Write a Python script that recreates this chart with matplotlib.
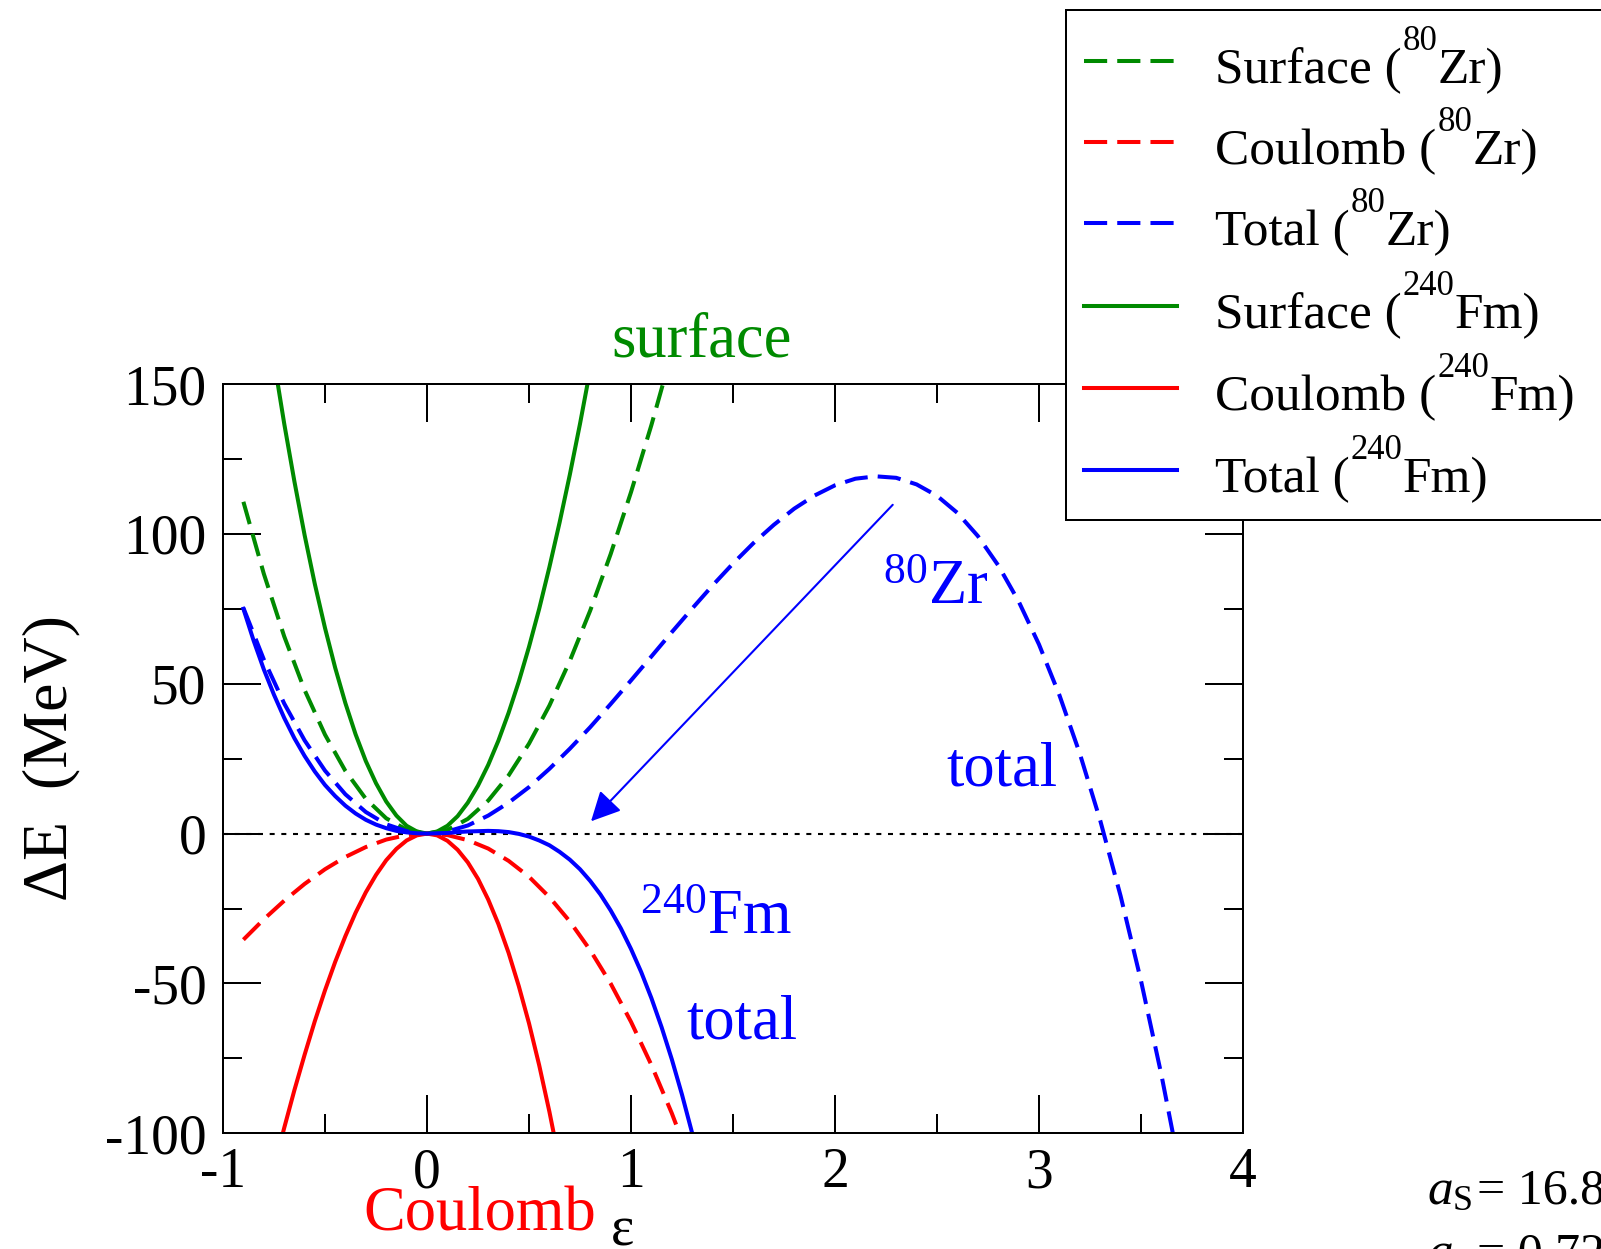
import matplotlib
matplotlib.use("Agg")
import matplotlib.pyplot as plt
from matplotlib.ticker import MultipleLocator
from matplotlib.lines import Line2D
from matplotlib.patches import Rectangle

# Deformation energy (MeV) versus deformation parameter epsilon
eps_zr_s = [-0.9, -0.8, -0.7, -0.6, -0.5, -0.4, -0.3, -0.2, -0.1, 0.0, 0.1,
            0.2, 0.3, 0.4, 0.5, 0.6, 0.7, 0.8, 0.9, 1.0, 1.1, 1.2]
surface_zr = [110.7, 86.7, 65.8, 47.9, 33.0, 20.9, 11.6, 5.1, 1.3, 0.0, 1.2,
              4.9, 11.0, 19.4, 30.0, 42.7, 57.6, 74.4, 93.2, 113.9, 136.3, 160.5]

eps_zr_c = [-0.9, -0.8, -0.7, -0.6, -0.5, -0.4, -0.3, -0.2, -0.1, 0.0, 0.1,
            0.2, 0.3, 0.4, 0.5, 0.6, 0.7, 0.8, 0.9, 1.0, 1.1, 1.2, 1.3]
coulomb_zr = [-35.4, -28.6, -22.4, -16.8, -11.9, -7.8, -4.5, -2.0, -0.5, 0.0, -0.5,
              -2.2, -5.0, -9.1, -14.4, -21.2, -29.3, -38.9, -50.0, -62.8, -77.2, -93.3, -111.2]

eps_zr_t = [-0.9, -0.8, -0.7, -0.6, -0.5, -0.4, -0.3, -0.2, -0.1, 0.0,
            0.1, 0.2, 0.3, 0.4, 0.5, 0.6, 0.7, 0.8, 0.9, 1.0,
            1.1, 1.2, 1.3, 1.4, 1.5, 1.6, 1.7, 1.8, 1.9, 2.0,
            2.1, 2.2, 2.3, 2.4, 2.5, 2.6, 2.7, 2.8, 2.9, 3.0,
            3.1, 3.2, 3.3, 3.4, 3.5, 3.6, 3.7]
total_zr = [75.3, 58.1, 43.4, 31.1, 21.0, 13.1, 7.2, 3.1, 0.8, 0.0,
            0.7, 2.7, 6.0, 10.3, 15.5, 21.6, 28.3, 35.5, 43.2, 51.1,
            59.1, 67.2, 75.1, 82.8, 90.1, 96.9, 103.0, 108.4, 112.8, 116.2,
            118.4, 119.2, 118.7, 116.5, 112.7, 107.0, 99.3, 89.5, 77.5, 63.1,
            46.2, 26.7, 4.4, -20.8, -49.1, -80.5, -115.2]

eps_fm_s = [-0.8, -0.75, -0.7, -0.65, -0.6, -0.55, -0.5, -0.45, -0.4, -0.35,
            -0.3, -0.25, -0.2, -0.15, -0.1, -0.05, 0.0, 0.05, 0.1, 0.15,
            0.2, 0.25, 0.3, 0.35, 0.4, 0.45, 0.5, 0.55, 0.6, 0.65,
            0.7, 0.75, 0.8, 0.85]
surface_fm = [180.3, 157.8, 136.8, 117.5, 99.6, 83.3, 68.6, 55.3, 43.5, 33.1,
              24.2, 16.8, 10.7, 6.0, 2.6, 0.7, 0.0, 0.7, 2.6, 5.8,
              10.3, 16.0, 22.9, 31.0, 40.3, 50.7, 62.3, 75.0, 88.9, 103.8,
              119.7, 136.7, 154.8, 173.8]

eps_fm_c = [-0.75, -0.7, -0.65, -0.6, -0.55, -0.5, -0.45, -0.4, -0.35, -0.3,
            -0.25, -0.2, -0.15, -0.1, -0.05, 0.0, 0.05, 0.1, 0.15, 0.2,
            0.25, 0.3, 0.35, 0.4, 0.45, 0.5, 0.55, 0.6, 0.65]
coulomb_fm = [-111.5, -98.2, -85.6, -73.8, -62.6, -52.3, -42.8, -34.2, -26.4, -19.6,
              -13.8, -8.9, -5.1, -2.3, -0.6, 0.0, -0.6, -2.4, -5.4, -9.6,
              -15.1, -22.0, -30.2, -39.8, -50.9, -63.3, -77.3, -92.8, -109.8]

eps_fm_t = [-0.9, -0.85, -0.8, -0.75, -0.7, -0.65, -0.6, -0.55, -0.5, -0.45,
            -0.4, -0.35, -0.3, -0.25, -0.2, -0.15, -0.1, -0.05, 0.0, 0.05,
            0.1, 0.15, 0.2, 0.25, 0.3, 0.35, 0.4, 0.45, 0.5, 0.55,
            0.6, 0.65, 0.7, 0.75, 0.8, 0.85, 0.9, 0.95, 1.0, 1.05,
            1.1, 1.15, 1.2, 1.25, 1.3, 1.35]
total_fm = [75.0, 64.4, 54.8, 46.3, 38.6, 31.8, 25.9, 20.7, 16.2, 12.5,
            9.3, 6.7, 4.6, 3.0, 1.8, 0.9, 0.4, 0.1, 0.0, 0.1,
            0.2, 0.5, 0.7, 0.8, 0.9, 0.8, 0.5, -0.1, -1.0, -2.3,
            -3.9, -6.1, -8.7, -11.9, -15.8, -20.3, -25.6, -31.6, -38.5, -46.2,
            -54.9, -64.6, -75.3, -87.1, -100.0, -114.2]

legend_parts = [('Surface (', '80', 'Zr)'), ('Coulomb (', '80', 'Zr)'), ('Total (', '80', 'Zr)'),
                ('Surface (', '240', 'Fm)'), ('Coulomb (', '240', 'Fm)'), ('Total (', '240', 'Fm)')]

plt.rcParams['font.family'] = ['Liberation Serif', 'DejaVu Serif']
plt.rcParams['mathtext.fontset'] = 'custom'
plt.rcParams['mathtext.rm'] = 'Liberation Serif'
plt.rcParams['mathtext.it'] = 'Liberation Serif:italic'
plt.rcParams['axes.unicode_minus'] = False

W, H = 1601, 1249
fig = plt.figure(figsize=(W / 100, H / 100), dpi=100)
ax = fig.add_axes([223 / W, 1 - 1133.3 / H, 1020 / W, 749.3 / H])


def fx(p):
    return p / W


def fy(p):
    return 1 - p / H


GREEN, RED, BLUE = '#008a00', '#ff0000', '#0000ff'
DASH = (5.75, 2.5)
LW = 2.9

ax.plot([-1, 4], [0, 0], color='black', lw=1.5, dashes=(2.4, 3.2), zorder=1)
series = [
    (eps_zr_s, surface_zr, GREEN, True),
    (eps_zr_c, coulomb_zr, RED, True),
    (eps_zr_t, total_zr, BLUE, True),
    (eps_fm_s, surface_fm, GREEN, False),
    (eps_fm_c, coulomb_fm, RED, False),
    (eps_fm_t, total_fm, BLUE, False),
]
for xs, ys, col, dashed in series:
    kw = dict(dashes=DASH) if dashed else {}
    ax.plot(xs, ys, color=col, lw=LW, **kw)

ax.set_xlim(-1, 4)
ax.set_ylim(-100, 150)
ax.xaxis.set_major_locator(MultipleLocator(1))
ax.xaxis.set_minor_locator(MultipleLocator(0.5))
ax.yaxis.set_major_locator(MultipleLocator(50))
ax.yaxis.set_minor_locator(MultipleLocator(25))
ax.tick_params(which='both', direction='in', top=True, right=True, width=1.44, labelsize=40)
ax.tick_params(which='major', length=27.4)
ax.tick_params(which='minor', length=13.7)
ax.tick_params(axis='x', pad=10)
ax.tick_params(axis='y', pad=12)
for sp in ax.spines.values():
    sp.set_linewidth(1.44)

fig.text(fx(51), fy(758), 'ΔE  (MeV)', rotation=90, fontsize=46, ha='center', va='center')
fig.text(fx(622), fy(1246), 'ε', fontsize=40, ha='center', va='baseline')

# Arrow pointing from the Zr label to the flat Fm total near zero
ax.annotate('', xy=(0.804, 4.1), xytext=(2.283, 109.7),
            arrowprops=dict(arrowstyle='-|>,head_length=0.6,head_width=0.3', color=BLUE,
                            lw=1.5, mutation_scale=30, shrinkA=0, shrinkB=0))
ax.text(1.348, 159.1, 'surface', color=GREEN, fontsize=45, ha='center', va='baseline')
ax.text(0.26, -132.3, 'Coulomb', color=RED, fontsize=45, ha='center', va='baseline')
ax.text(2.235, 76.6, r'$^{80}$Zr', color=BLUE, fontsize=45, ha='left', va='baseline')
ax.text(2.544, 16.2, 'total', color=BLUE, fontsize=45, ha='left', va='baseline')
ax.text(1.044, -33.5, r'$^{240}$Fm', color=BLUE, fontsize=45, ha='left', va='baseline')
ax.text(1.269, -68.5, 'total', color=BLUE, fontsize=45, ha='left', va='baseline')

# Liquid-drop parameters
fig.text(fx(1427), fy(1204), r'$a_\mathrm{S}$', fontsize=37, va='baseline')
fig.text(fx(1477), fy(1204), '= 16.8', fontsize=36, va='baseline')
fig.text(fx(1427), fy(1267), r'$a_\mathrm{C}$', fontsize=37, va='baseline')
fig.text(fx(1477), fy(1267), '= 0.72', fontsize=36, va='baseline')

# Legend box, opaque, over the top-right corner of the axes
fig.add_artist(Rectangle((fx(1066), fy(520)), fx(700), 510 / H, transform=fig.transFigure,
                         facecolor='white', edgecolor='black', lw=1.44, zorder=10))
renderer = fig.canvas.get_renderer()
colors = [GREEN, RED, BLUE, GREEN, RED, BLUE]
rows = [61, 142, 223, 306, 388, 470]
for i, ((pre, sup, post), col, ry) in enumerate(zip(legend_parts, colors, rows)):
    kw = dict(dashes=DASH) if i < 3 else {}
    fig.add_artist(Line2D([fx(1084), fx(1177)], [fy(ry), fy(ry)], transform=fig.transFigure,
                          color=col, lw=LW, zorder=11, **kw))
    base = ry + 22
    t1 = fig.text(fx(1215), fy(base), pre, fontsize=37, va='baseline', zorder=11)
    w1 = t1.get_window_extent(renderer).width
    t2 = fig.text(fx(1215 + w1 + 1), fy(base - 33), sup, fontsize=25, va='baseline', zorder=11)
    w2 = t2.get_window_extent(renderer).width
    fig.text(fx(1215 + w1 + w2 + 1), fy(base), post, fontsize=37, va='baseline', zorder=11)

fig.savefig('out.png', dpi=100)
